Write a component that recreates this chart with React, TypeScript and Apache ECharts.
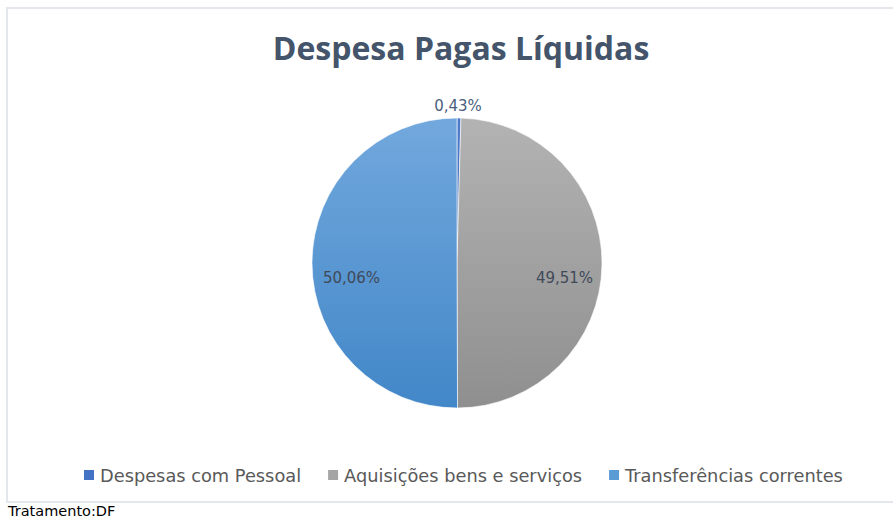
import React, { useEffect, useRef } from "react";
import * as echarts from "echarts";

const titleText = "Despesa Pagas Líquidas";
const categories = ["Despesas com Pessoal", "Aquisições bens e serviços", "Transferências correntes"];
const shares = [0.43, 49.51, 50.06];
const labels = ["0,43%", "49,51%", "50,06%"];
const sourceNote = "Tratamento:DF";

const baseColors = ["#4472c4", "#a5a5a5", "#5b9bd5"];
const gradTop = ["#4d7bcc", "#b3b3b3", "#72a8dd"];
const gradBottom = ["#3f6ab8", "#8f8f8f", "#4287c8"];
const labelOffsets: [number, number][] = [[0, -82], [32, 14], [-30, 15]];
const labelColors = ["#4a5f7e", "#404a58", "#404a58"];

export default function App() {
  const ref = useRef<HTMLDivElement>(null);
  useEffect(() => {
    if (!ref.current) return;
    const chart = echarts.init(ref.current, undefined, { renderer: "svg" });
    const data = categories.map((name, i) => ({
      name,
      value: shares[i],
      itemStyle: {
        color: new echarts.graphic.LinearGradient(0, 0, 0, 1, [
          { offset: 0, color: gradTop[i] },
          { offset: 1, color: gradBottom[i] },
        ]),
      },
      label: {
        formatter: labels[i],
        offset: labelOffsets[i],
        color: labelColors[i],
      },
    }));
    chart.setOption({
      animation: false,
      backgroundColor: "#ffffff",
      graphic: [
        {
          type: "rect",
          shape: { x: 7, y: 8, width: 900, height: 494 },
          style: { fill: "#ffffff", stroke: "#e4e7eb", lineWidth: 2 },
          z: -10,
          silent: true,
        },
        {
          type: "text",
          left: 8,
          top: 503,
          style: {
            text: sourceNote,
            fill: "#000000",
            font: '14.5px "DejaVu Sans"',
          },
        },
      ],
      title: {
        text: titleText,
        left: 456,
        textAlign: "center",
        top: 26,
        textStyle: {
          fontFamily: "Open Sans",
          fontWeight: "bold",
          fontSize: 32,
          color: "#44546a",
        },
      },
      legend: {
        left: 77,
        top: 461,
        itemWidth: 12,
        itemHeight: 12,
        itemGap: 25,
        icon: "rect",
        data: categories.map((name, i) => ({ name, itemStyle: { color: baseColors[i] } })),
        textStyle: {
          fontFamily: "DejaVu Sans",
          fontSize: 17.8,
          color: "#595959",
        },
      },
      series: [
        {
          type: "pie",
          center: [457, 263],
          radius: [0, 145],
          startAngle: 90,
          clockwise: true,
          avoidLabelOverlap: false,
          data,
          itemStyle: { borderColor: "#ffffff", borderWidth: 0.6 },
          label: {
            show: true,
            position: "inside",
            fontFamily: "DejaVu Sans",
            fontSize: 15,
          },
          labelLine: { show: false },
          emphasis: { disabled: true },
        },
      ],
    });
    return () => chart.dispose();
  }, []);
  return (
    <div
      ref={ref}
      style={{ position: "fixed", left: 0, top: 0, width: 893, height: 520 }}
    />
  );
}
